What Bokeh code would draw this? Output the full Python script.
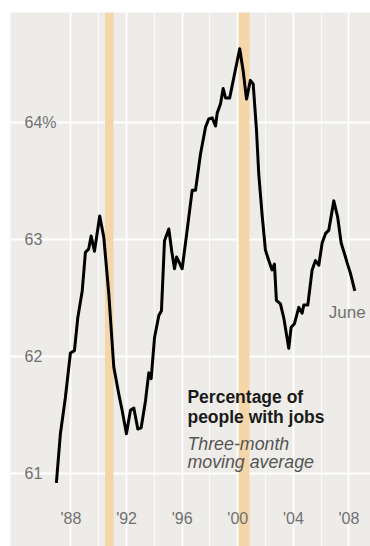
from bokeh.plotting import figure
from bokeh.models import Range1d, Grid, FixedTicker
from bokeh.core.properties import value
from bokeh.embed import file_html
from bokeh.resources import INLINE

# ---- data ----
years = [1986.95, 1987.24, 1987.60, 1987.96, 1988.25, 1988.49, 1988.81, 1989.04, 1989.28, 1989.45,
         1989.69, 1990.07, 1990.36, 1990.72, 1991.08, 1991.44, 1991.68, 1991.99, 1992.28, 1992.52,
         1992.81, 1993.05, 1993.36, 1993.60, 1993.77, 1994.01, 1994.32, 1994.51, 1994.73, 1995.04,
         1995.25, 1995.45, 1995.60, 1995.80, 1996.00, 1996.36, 1996.72, 1996.96, 1997.32, 1997.68,
         1997.91, 1998.16, 1998.40, 1998.52, 1998.76, 1998.95, 1999.12, 1999.42, 1999.71, 2000.14,
         2000.39, 2000.63, 2000.91, 2001.11, 2001.35, 2001.51, 2001.76, 2001.99, 2002.23, 2002.47,
         2002.64, 2002.78, 2003.07, 2003.31, 2003.67, 2003.84, 2004.08, 2004.39, 2004.63, 2004.75,
         2005.04, 2005.35, 2005.59, 2005.83, 2006.07, 2006.31, 2006.55, 2006.91, 2007.19, 2007.44,
         2007.75, 2007.87, 2008.11, 2008.42]
employment = [60.92, 61.34, 61.65, 62.03, 62.05, 62.33, 62.56, 62.89, 62.92, 63.03,
              62.90, 63.20, 63.02, 62.54, 61.91, 61.68, 61.54, 61.34, 61.54, 61.56,
              61.38, 61.39, 61.62, 61.86, 61.81, 62.16, 62.35, 62.39, 62.99, 63.09,
              62.90, 62.75, 62.85, 62.80, 62.75, 63.08, 63.42, 63.42, 63.73, 63.96,
              64.03, 64.04, 63.97, 64.08, 64.16, 64.29, 64.21, 64.21, 64.38, 64.63,
              64.44, 64.20, 64.36, 64.33, 63.93, 63.56, 63.20, 62.91, 62.82, 62.74,
              62.79, 62.48, 62.45, 62.33, 62.07, 62.25, 62.28, 62.42, 62.37, 62.44,
              62.44, 62.74, 62.82, 62.78, 62.97, 63.05, 63.08, 63.33, 63.19, 62.97,
              62.85, 62.80, 62.71, 62.56]

recession_start = [1990.45, 2000.07]
recession_end = [1991.06, 2000.85]

x_major_ticks = [1988, 1992, 1996, 2000, 2004, 2008]
x_minor_ticks = [1990, 1994, 1998, 2002, 2006]
x_tick_labels = ["'88", "'92", "'96", "'00", "'04", "'08"]
y_ticks = [61, 62, 63, 64]
y_tick_labels = ["61", "62", "63", "64%"]

title_lines = ["Percentage of", "people with jobs"]
subtitle_lines = ["Three-month", "moving average"]
end_label = "June"

# ---- figure ----
X0, X1 = 1983.65, 2009.55
Y0, Y1 = 60.376, 64.94
p = figure(width=370, height=546, output_backend="svg", toolbar_location=None,
           x_axis_type=None, y_axis_type=None,
           x_range=Range1d(X0, X1), y_range=Range1d(Y0, Y1),
           min_border_left=10, min_border_top=12, min_border_right=0, min_border_bottom=0)
p.background_fill_color = "#eeece8"
p.border_fill_color = "white"
p.outline_line_color = None

xgrid = Grid(dimension=0, ticker=FixedTicker(ticks=x_major_ticks, minor_ticks=x_minor_ticks),
             grid_line_color="white", grid_line_width=1.8,
             minor_grid_line_color="white", minor_grid_line_width=1.0, minor_grid_line_alpha=0.8)
p.add_layout(xgrid)
p.hspan(y=y_ticks, line_color="white", line_width=1.8, level="underlay")

p.quad(left=recession_start, right=recession_end, bottom=Y0, top=Y1,
       fill_color="#f5d6a9", line_color=None)

p.line(years, employment, line_color="black", line_width=3, line_join="round")

font = value("Liberation Sans")
p.text(x=[1984.66] * len(y_ticks), y=y_ticks, text=y_tick_labels, text_font=font,
       text_font_size="16px", text_color="#707070", text_align="left", text_baseline="middle")
p.text(x=x_major_ticks, y=[60.615] * len(x_major_ticks), text=x_tick_labels, text_font=font,
       text_font_size="16px", text_color="#707070", text_align="center", text_baseline="middle")

p.text(x=[1996.38, 1996.38], y=[61.650, 61.487], text=title_lines, text_font=font,
       text_font_size="17.5px", text_font_style="bold", text_color="#1a1a1a",
       text_align="left", text_baseline="alphabetic")
p.text(x=[1996.38, 1996.38], y=[61.256, 61.098], text=subtitle_lines, text_font=font,
       text_font_size="17.8px", text_font_style="italic", text_color="#555555",
       text_align="left", text_baseline="alphabetic")
p.text(x=[2006.55], y=[62.376], text=[end_label], text_font=font,
       text_font_size="17px", text_color="#707070", text_align="left", text_baseline="alphabetic")

open("out.html", "w").write(file_html(p, INLINE))
